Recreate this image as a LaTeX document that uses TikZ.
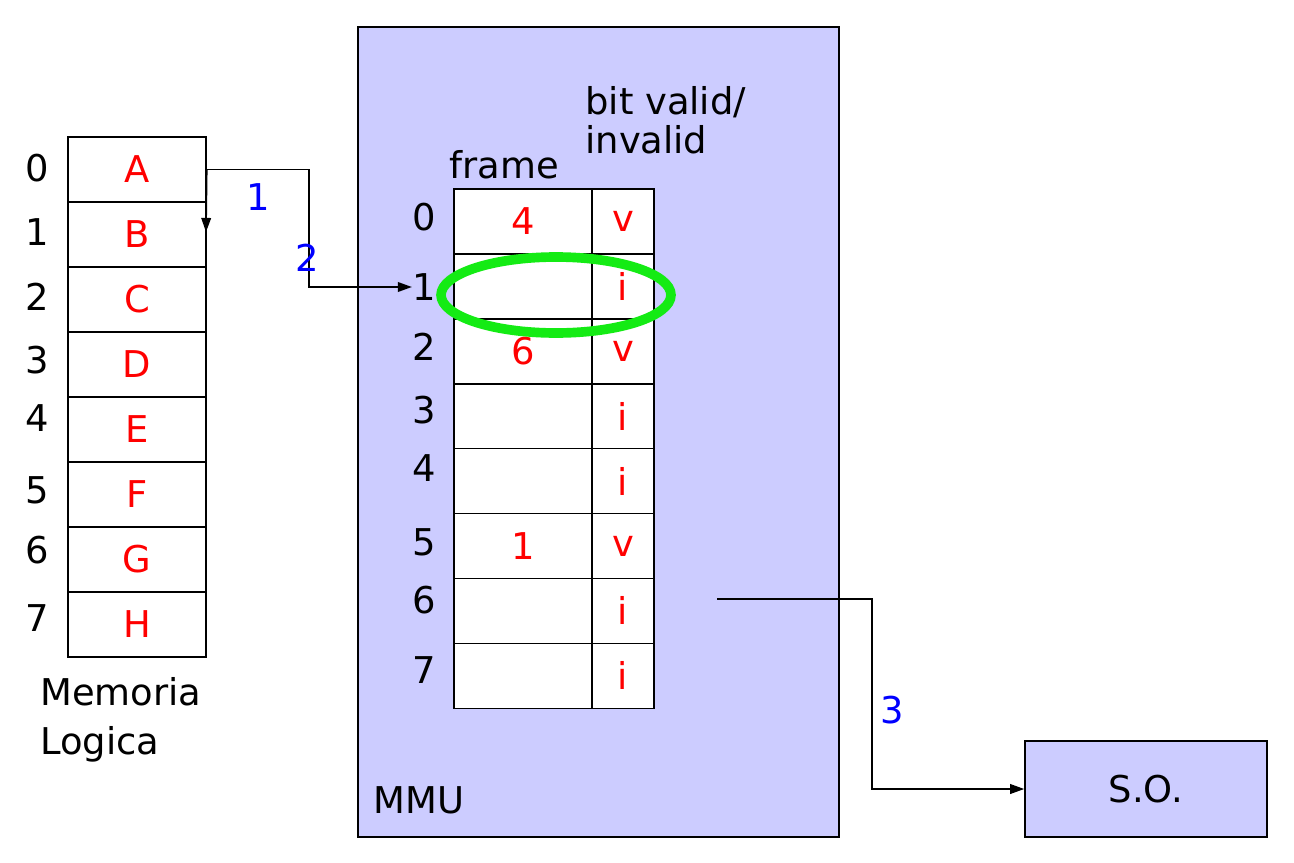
\documentclass[tikz,border=0pt]{standalone}
\usepackage{fontspec}
\setmainfont{DejaVu Sans}
\usepackage{xcolor}
\usetikzlibrary{shapes.geometric, arrows.meta, positioning, calc}

\definecolor{mmublue}{RGB}{204,204,255}
\definecolor{ringgreen}{RGB}{20,235,20}

\begin{document}
\begin{tikzpicture}[
  x=0.02cm, y=-0.02cm,
  txt/.style     = {font=\fontsize{21}{24}\selectfont, inner sep=0pt},
  memcell/.style = {draw, line width=0.9pt, fill=white, txt, text=red,
                    minimum width=2.76cm, minimum height=1.3cm},
  frcell/.style  = {draw, line width=0.9pt, fill=white, txt, text=red,
                    minimum width=2.76cm, minimum height=1.3cm},
  bitcell/.style = {draw, line width=0.9pt, fill=white, txt, text=red,
                    minimum width=1.24cm, minimum height=1.3cm},
  steplbl/.style = {txt, text=blue},
  arrow/.style   = {-{Triangle[length=8pt,width=5.5pt]}, line width=0.9pt}
]
\useasboundingbox (0,0) rectangle (1294,862);

% ── MMU and S.O. boxes ────────────────────────────────────────────────────────
\node[draw, line width=0.9pt, fill=mmublue, minimum width=9.62cm,
      minimum height=16.2cm] (mmu) at (598.5,432) {};
\node[txt, anchor=west] (mmulbl) at (373,800) {MMU};
\node[draw, line width=0.9pt, fill=mmublue, txt, minimum width=4.84cm,
      minimum height=1.92cm] (so) at (1146,789) {S.O.};

% ── Logical memory ────────────────────────────────────────────────────────────
\foreach \l [count=\i from 0] in {A,B,C,D,E,F,G,H}
  \node[memcell] (m\i) at (137,169.5+65*\i) {\l};
\foreach \y [count=\i from 0] in {168,232,297,360,418,490,550,618}
  \node[txt] (mi\i) at (37,\y) {\i};
\node[txt, anchor=west, align=left, font=\fontsize{21}{28}\selectfont]
  (memlbl) at (40,720) {Memoria\\Logica};

% ── Page table ────────────────────────────────────────────────────────────────
\foreach \f/\b [count=\i from 0] in {4/v, /i, 6/v, /i, /i, 1/v, /i, /i} {
  \node[frcell]  (f\i) at (523,221.5+64.9*\i) {\f};
  \node[bitcell] (b\i) at (623,221.5+64.9*\i) {\b};
}
\foreach \y [count=\i from 0] in {217,287,347,410,468,542,600,670}
  \node[txt] (pi\i) at (424,\y) {\i};
\node[txt] (frhead) at (504,165) {frame};
\node[txt, anchor=north west, align=left, font=\fontsize{21}{22}\selectfont]
  (bithead) at (585,86) {bit valid/\\invalid};

% ── Invalid entry ─────────────────────────────────────────────────────────────
\node[ellipse, draw=ringgreen, line width=5.5pt, minimum width=4.6cm,
      minimum height=1.52cm] (ring) at (556,295) {};

% ── Arrows ────────────────────────────────────────────────────────────────────
\coordinate (down) at (206,232);
\coordinate (bend) at (309,169.5);
\coordinate (fault) at (717,599);
\coordinate (turn) at (872,599);
\draw[arrow] (m0.east) -- (down);
\draw[arrow] (m0.east) -- (bend) |- (pi1.west);
\draw[arrow] (fault) -- (turn) |- (so.west);

% ── Step labels ───────────────────────────────────────────────────────────────
\node[steplbl] (s1) at (258,197) {1};
\node[steplbl] (s2) at (307,258) {2};
\node[steplbl] (s3) at (892,710) {3};

\end{tikzpicture}
\end{document}
